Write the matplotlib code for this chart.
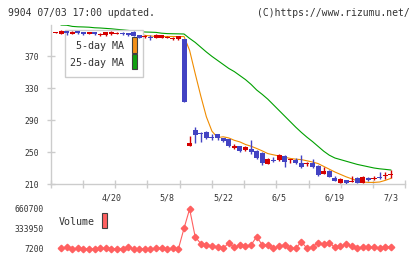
import numpy as np
import matplotlib
matplotlib.use('Agg')
import matplotlib.pyplot as plt
from matplotlib.patches import Rectangle

plt.rcParams['font.family'] = ['DejaVu Sans Mono']

# trading days 2020/4/6 - 7/3
dates = ['4/6', '4/7', '4/8', '4/9', '4/10', '4/13', '4/14', '4/15', '4/16', '4/17',
         '4/20', '4/21', '4/22', '4/23', '4/24', '4/27', '4/28', '4/30',
         '5/1', '5/7', '5/8', '5/11', '5/12', '5/13', '5/14', '5/15', '5/18', '5/19',
         '5/20', '5/21', '5/22', '5/25', '5/26', '5/27', '5/28', '5/29',
         '6/1', '6/2', '6/3', '6/4', '6/5', '6/8', '6/9', '6/10', '6/11', '6/12',
         '6/15', '6/16', '6/17', '6/18', '6/19', '6/22', '6/23', '6/24', '6/25', '6/26',
         '6/29', '6/30', '7/1', '7/2', '7/3']
date_labels = ['4/20', '5/8', '5/22', '6/5', '6/19', '7/3']

opens = [399, 398, 401, 398, 401, 400, 398, 399.5, 396, 396.5,
         397, 398, 399, 398.5, 399.5, 396, 393.5, 393.8, 392.5, 392.5,
         392.5, 391, 391, 391, 257, 277, 273, 275, 269, 272.5,
         267, 266, 255, 257.5, 252, 254, 251, 249, 235, 240.5,
         240, 245, 239.5, 240, 236, 234.6, 236.5, 232.5, 222.5, 226,
         218, 211.6, 215, 212.6, 218, 211.6, 217, 216.6, 219, 219.6, 221.6]
highs = [400, 402, 401.5, 401, 401.5, 400.5, 400, 400, 399, 400.5,
         401, 400, 399.5, 399, 401, 396.5, 396, 396, 397, 396.5,
         394.5, 393.5, 395, 391.5, 270, 281, 275, 276, 272, 273,
         268, 266.5, 260, 258, 257.5, 265, 252, 249.5, 242, 244,
         248, 246, 241.5, 242, 246, 237.5, 241, 233.5, 231.6, 227,
         219.5, 217, 215.5, 220, 218.5, 219.5, 219, 220, 224.6, 225, 227.5]
lows = [399, 397, 396, 397, 397, 396, 397, 396, 395, 395.5,
        396, 397.5, 396, 395, 395, 392, 393, 390, 392, 392,
        392, 390.5, 390, 313, 257, 261, 263, 266, 265, 265,
        263, 256, 254, 250.5, 251, 248, 241, 233.5, 234.5, 237.5,
        239, 231.5, 236, 235, 230.5, 232, 230.5, 220.5, 222, 218.5,
        213.5, 211, 209.5, 212, 211, 211, 213.5, 214.5, 216.5, 216.5, 217]
closes = [400, 401, 398.5, 400, 399, 398, 399.5, 397.5, 398, 400,
          400, 398.5, 397, 396, 395.5, 393, 394, 393, 396, 396,
          393, 393, 394.5, 313, 261, 271, 272, 268, 267, 267,
          264, 257, 258, 251, 256, 250.5, 242, 236.6, 241.5, 238.5,
          246, 237, 240, 236.6, 231.5, 235.5, 231, 221.25, 226, 219,
          214, 216, 211, 213, 211.6, 219, 215, 217, 217, 220, 222]

# moving averages and volume (plotted from the 2nd day on)
ma5 = [399.5, 399.5, 399.5, 400, 399.8, 399.4, 399, 398.6, 398.6, 398.8,
       399, 398.7, 398.3, 398.2, 397.4, 395.8, 395.1, 394.3, 394.3, 394.4,
       394.4, 394.2, 394.4, 377, 348, 320, 294, 276, 268, 269,
       267.6, 264.6, 262.6, 259.4, 257.2, 254.4, 251.4, 248, 246.5, 245,
       243.5, 242, 241, 240.5, 239, 237.5, 235.5, 232, 228.5, 225,
       222, 219, 216.5, 214, 212.5, 212, 212, 212.5, 214.5, 217]
ma25 = [408.7, 408.5, 407, 406.5, 406.3, 406, 405.3, 405, 404.5, 404,
        403.3, 402.7, 402, 401.3, 400.6, 400, 399.8, 399.5, 398.5, 398,
        397.8, 397.7, 397.5, 392, 387, 381, 375, 369.5, 364.5, 359.5,
        354.5, 350.5, 345.5, 340.5, 334.5, 327.5, 322, 316, 309, 302,
        295, 288, 281, 274.5, 268.5, 263, 257, 251, 246, 242.5,
        240.5, 238.5, 236.5, 234.5, 233, 231.5, 230, 229, 228.3, 227.5]
volume = [18000, 34000, 7200, 18000, 9000, 9000, 9000, 18000, 18000, 12000,
          9000, 12000, 45000, 9000, 9000, 9000, 9000, 18000, 18000, 9000,
          18000, 12000, 344800, 660700, 205000, 95000, 72500, 56000, 45000, 18000,
          105000, 35000, 72500, 56000, 72500, 208000, 72500, 72500, 18000, 56000,
          72500, 18000, 18000, 126000, 18000, 45000, 110000, 83400, 110000, 34000,
          56000, 83400, 56000, 18000, 45000, 34000, 34000, 18000, 45000, 45000]

W, H = 420, 259
def fx(x): return x / W
def fy(y): return 1 - y / H

grey = '#cccccc'
txt = '#333333'
red = '#d40000'
blue = '#4343c3'
orange = '#f08c00'
green = '#00a000'
volc = '#ff6060'

fig = plt.figure(figsize=(4.2, 2.59), dpi=100)
xlim = (-0.86, 62.6)

# price panel
ax = fig.add_axes([fx(50.7), fy(184), (405.3 - 50.7) / W, (184 - 25) / H])
x = np.arange(len(dates))
o, h, l, c = map(np.array, (opens, highs, lows, closes))
cols = np.where(c >= o, red, blue)
ax.vlines(x, l, h, colors=cols, lw=1, zorder=4)
body = np.maximum(np.abs(c - o), 1.25)
ax.bar(x, body, bottom=np.minimum(o, c), width=0.9, color=cols, lw=0, zorder=4)

xm = np.arange(1, len(ma5) + 1)
ax.plot(xm, ma5, color=orange, lw=0.8, zorder=2)
ax.plot(xm, ma25, color=green, lw=0.8, zorder=2)

ax.set_xlim(*xlim)
ax.set_ylim(210, 408.75)
for s in ['top', 'right']:
    ax.spines[s].set_visible(False)
for s in ['left', 'bottom']:
    ax.spines[s].set_color(grey)
    ax.spines[s].set_linewidth(1)
ax.set_yticks([210, 250, 290, 330, 370])
ax.tick_params(axis='y', direction='inout', length=6, width=1, color=grey,
               labelcolor=txt, labelsize=5.8, pad=5.5)
ax.set_xticks([dates.index(d) for d in date_labels])
ax.set_xticklabels(date_labels)
ax.set_xticks(np.linspace(xlim[0], xlim[1], 12), minor=True)
ax.tick_params(axis='x', which='major', length=0, labelcolor=txt, labelsize=6, pad=7)
ax.tick_params(axis='x', which='minor', direction='inout', length=6, width=1, color=grey)

# legend box (under candles, over lines)
ax.add_patch(Rectangle((fx(65.3), fy(77.3)), 78 / W, 47.3 / H, transform=fig.transFigure,
                       facecolor='white', edgecolor=grey, lw=1, zorder=3))
ax.text(fx(124), fy(46), '5-day MA', transform=fig.transFigure, ha='right', va='center',
        fontsize=7.2, color=txt, zorder=3.5)
ax.text(fx(124), fy(63.3), '25-day MA', transform=fig.transFigure, ha='right', va='center',
        fontsize=7.2, color=txt, zorder=3.5)
ax.add_patch(Rectangle((fx(131.7), fy(53.3)), 5.6 / W, 16 / H, transform=fig.transFigure,
                       facecolor='#f39018', edgecolor='#404040', lw=0.8, zorder=3.5))
ax.add_patch(Rectangle((fx(131.7), fy(69.3)), 5.6 / W, 15 / H, transform=fig.transFigure,
                       facecolor='#10a010', edgecolor='#404040', lw=0.8, zorder=3.5))

# volume panel
vax = fig.add_axes([fx(50.7), fy(256), (405.3 - 50.7) / W, (256 - 203) / H])
vmin, vmax = min(volume), max(volume)
per_px = (vmax - vmin) / 40
vax.plot(xm, volume, color=volc, lw=0.8, marker='D', ms=3.3, mec=volc, mfc=volc)
vax.set_xlim(*xlim)
vax.set_ylim(vmin - 7 * per_px, vmax + 6 * per_px)
for s in vax.spines.values():
    s.set_visible(False)
vax.set_xticks([])
vax.set_yticks([vmin, (vmin + vmax) / 2, vmax])
vax.set_yticklabels([str(int(v)) for v in [vmin, (vmin + vmax) / 2, vmax]])
vax.tick_params(axis='y', length=0, labelcolor=txt, labelsize=5.8, pad=4.8)
vax.patch.set_alpha(0)

fig.text(fx(58.3), fy(222), 'Volume', ha='left', va='center', fontsize=7.2, color=txt)
fig.add_artist(Rectangle((fx(101.7), fy(228.3)), 5.6 / W, 15 / H, transform=fig.transFigure,
                         facecolor=volc, edgecolor='#404040', lw=0.8))

# header
fig.text(fx(8.3), fy(12.7), '9904 07/03 17:00 updated.', ha='left', va='center',
         fontsize=7.0, color=txt)
fig.text(fx(410), fy(12.7), '(C)https://www.rizumu.net/', ha='right', va='center',
         fontsize=7.0, color=txt)

fig.savefig('out.png', dpi=100)
